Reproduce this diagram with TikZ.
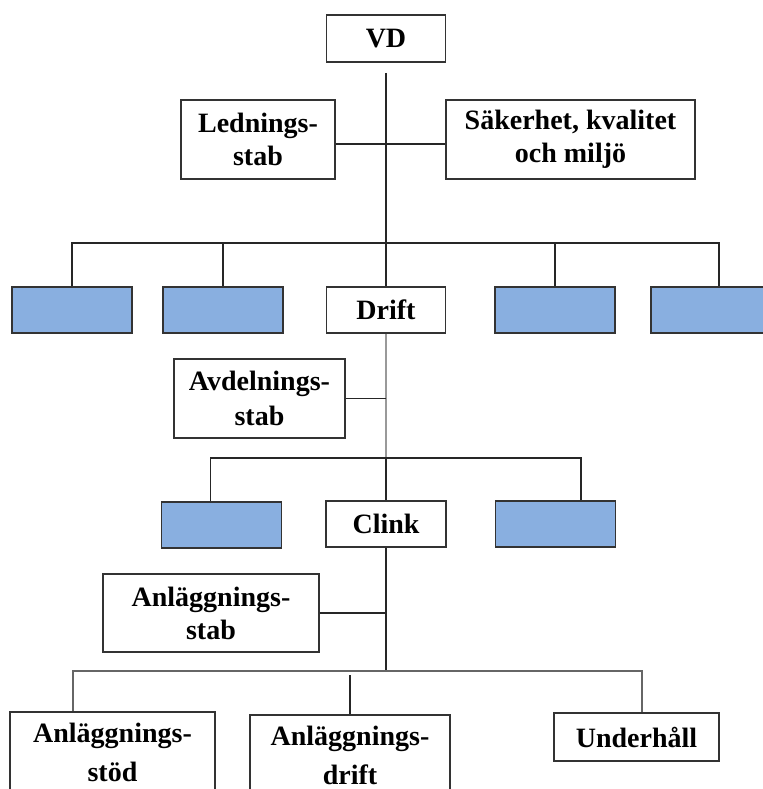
\documentclass[tikz,border=0pt]{standalone}
\usepackage{fontspec}
\setmainfont{Liberation Serif}
\definecolor{ljusbla}{RGB}{137,175,224}

\begin{document}
\begin{tikzpicture}[x=0.5pt, y=-0.5pt]
	\tikzset{ruta/.style={draw=black!80, line width=0.8pt, fill=white, align=center, inner sep=0pt, font=\bfseries\fontsize{14}{16.5}\selectfont}, blaruta/.style={ruta, fill=ljusbla, minimum width=60pt, minimum height=23pt}, linje/.style={black!85, line width=0.6pt}};

	\useasboundingbox (0,0) rectangle (763,789);
	\clip (0,0) rectangle (763,789);

	\node[ruta, minimum width=59.5pt, minimum height=23.5pt] (vd)     at (386,  38.5) {VD};
	\node[ruta, minimum width=77pt,   minimum height=39.5pt] (led)    at (258, 139.5) {Lednings-\\stab};
	\node[ruta, minimum width=124.5pt,minimum height=39.5pt] (sak)    at (570.5,139.5) {Säkerhet, kvalitet\\och miljö};

	\node[blaruta] (b1) at ( 72, 310) {};
	\node[blaruta] (b2) at (223, 310) {};
	\node[ruta, minimum width=59.5pt, minimum height=23pt] (drift)   at (386, 310) {Drift};
	\node[blaruta] (b4) at (555, 310) {};
	\node[blaruta, minimum width=68pt] (b5) at (719, 310) {};

	\node[ruta, minimum width=85.5pt, minimum height=39.5pt] (avd)    at (259.5,398.5) {Avdelnings-\\[1pt]stab};

	\node[blaruta] (c1) at (221.5, 525) {};
	\node[ruta, minimum width=60pt, minimum height=23pt] (clink)     at (386, 524) {Clink};
	\node[blaruta] (c3) at (555.5, 524) {};

	\node[ruta, minimum width=108pt, minimum height=39pt] (anstab)    at (211, 613) {Anläggnings-\\stab};

	\node[ruta, minimum width=102.5pt, minimum height=44pt, text depth=3.5pt] (anst) at (112.5,756) {Anläggnings-\\[3pt]stöd};
	\node[ruta, minimum width=100pt,   minimum height=44pt, text depth=3.5pt] (andr) at (350, 759) {Anläggnings-\\[3pt]drift};
	\node[ruta, minimum width=82.5pt,  minimum height=24pt] (underh)   at (636.5,737) {Underhåll};

	\coordinate (ksa)    at (386, 144);
	\coordinate (skena1) at (386, 243);
	\coordinate (skena2) at (386, 458);
	\coordinate (skena3) at (386, 671);

	\draw[linje, shorten <=5pt] (vd.south) -- (drift.north);
	\draw[linje] (led.east |- ksa) -- (sak.west |- ksa);
	\draw[linje] (b1.north) |- (skena1) -| (b5.north);
	\draw[linje] (b2.north) -- (b2.north |- skena1);
	\draw[linje] (b4.north) -- (b4.north |- skena1);

	\draw[linje, black!40] (drift.south) -- (skena2);
	\draw[linje] (avd.east) -- (avd.east -| skena2);
	\draw[linje] ([xshift=-5.5pt]c1.north) |- (skena2) -| ([xshift=12.75pt]c3.north);
	\draw[linje] (skena2) -- (clink.north);

	\draw[linje] (clink.south) -- (skena3);
	\draw[linje] (anstab.east) -- (anstab.east -| skena3);
	\draw[linje, black!60] ([xshift=-19.75pt]anst.north) |- (skena3) -| ([xshift=2.75pt]underh.north);
	\draw[linje, shorten >=2pt] (andr.north) -- (andr.north |- skena3);

\end{tikzpicture}
\end{document}
